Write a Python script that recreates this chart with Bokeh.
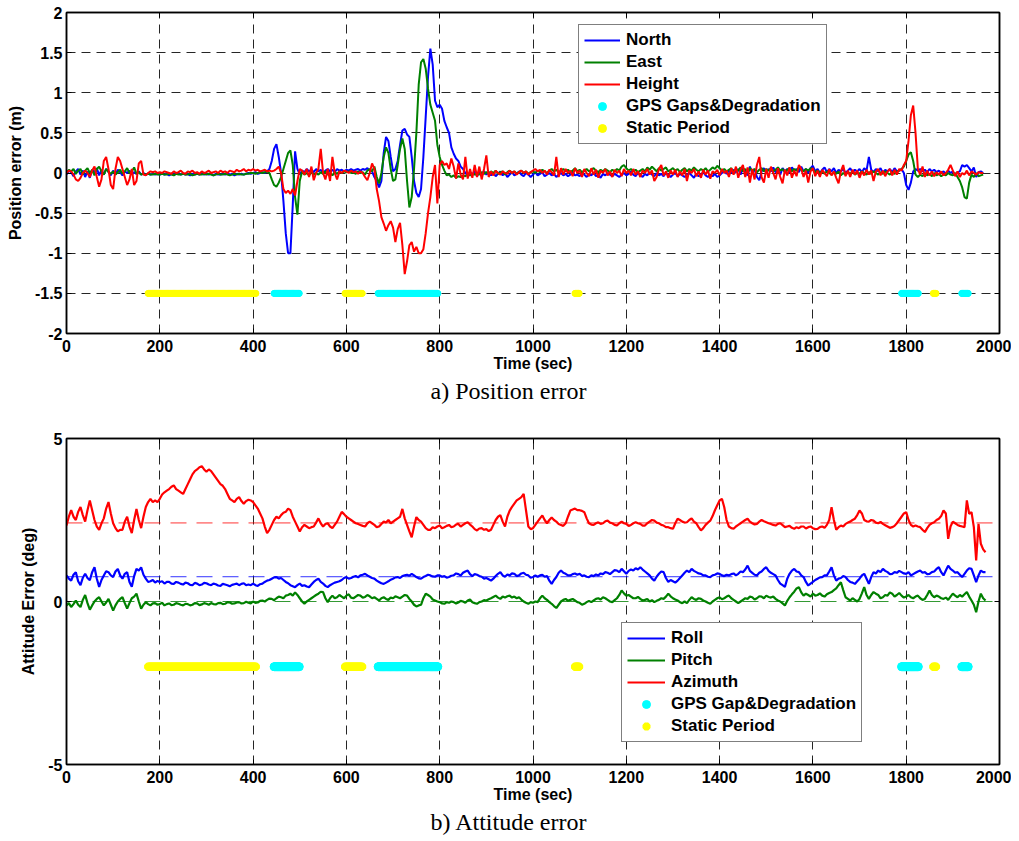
import numpy as np
from bokeh.plotting import figure
from bokeh.models import Range1d, FixedTicker, Legend, LegendItem, Span, LinearAxis
from bokeh.layouts import column
from bokeh.embed import file_html
from bokeh.resources import INLINE

# ---------------- data ----------------
pos_dt = 5      # seconds between position samples (t = 0, 5, 10, ...)
att_dt = 5      # seconds between attitude samples (t = 0, 5, 10, ...)

north = [
    -0.02, 0.03, 0.01, -0.04, 0.02, 0.05, -0.02, 0.03, -0.05, 0.02, -0.06, 0.04, 0.01, 0.06, -0.03, 0.04, -0.02, 0.05, 0.02, -0.03,
    0.03, -0.02, 0.04, 0.01, -0.03, 0.02, 0.0, 0.03, -0.02, 0.01, -0.01, 0.02, -0.02, 0.0, -0.02, -0.01, -0.02, -0.01, -0.02, -0.01,
    -0.02, -0.01, -0.02, -0.01, -0.03, -0.01, -0.02, -0.01, 0.0, -0.02, -0.01, -0.02, -0.01, -0.03, -0.01, -0.02, -0.01, -0.02, 0.0, -0.02,
    -0.01, -0.02, -0.01, -0.03, -0.01, -0.02, -0.02, -0.01, -0.02, 0.0, -0.02, -0.01, -0.03, -0.01, -0.02, -0.01, -0.02, -0.01, 0.0, -0.01,
    0.0, 0.01, -0.01, 0.0, 0.01, 0.0, 0.02, 0.05, 0.15, 0.3, 0.36, 0.2, 0.0, -0.35, -0.75, -1.0, -1.0, -0.4, 0.27, 0.05,
    -0.02, 0.03, 0.01, 0.05, 0.02, 0.04, 0.01, 0.05, 0.02, 0.04, 0.0, 0.03, 0.05, 0.02, 0.04, 0.01, 0.05, 0.03, 0.04, 0.02,
    0.04, 0.03, 0.05, 0.03, 0.04, 0.05, 0.03, 0.05, 0.04, 0.06, 0.03, 0.02, -0.05, -0.1, -0.18, -0.1, 0.25, 0.45, 0.4, 0.2,
    0.02, 0.05, 0.15, 0.35, 0.53, 0.55, 0.48, 0.45, 0.2, -0.1, -0.25, -0.3, -0.2, 0.2, 0.7, 1.2, 1.55, 1.35, 0.9, 0.82,
    0.85, 0.8, 0.65, 0.57, 0.5, 0.32, 0.24, 0.18, 0.15, 0.08, 0.05, 0.0, -0.03, 0.01, -0.02, 0.02, -0.04, 0.01, -0.02, 0.02,
    -0.02, 0.01, -0.03, 0.0, -0.04, -0.01, 0.02, -0.03, 0.0, -0.05, -0.02, 0.01, -0.03, -0.01, 0.02, -0.02, -0.04, 0.0, -0.02, -0.05,
    -0.02, 0.01, -0.03, -0.01, 0.01, -0.04, -0.02, 0.0, -0.03, -0.01, -0.05, -0.02, 0.0, -0.03, -0.01, -0.04, -0.02, 0.01, -0.03, -0.02,
    -0.04, 0.0, -0.02, -0.05, -0.01, -0.03, 0.0, -0.04, -0.02, -0.06, -0.01, -0.03, 0.0, -0.02, -0.04, -0.01, -0.03, -0.05, -0.02, 0.0,
    -0.03, -0.01, 0.02, -0.02, -0.04, 0.0, -0.02, -0.05, -0.01, -0.03, 0.01, -0.02, -0.04, 0.0, -0.03, -0.01, -0.04, 0.0, -0.02, -0.05,
    -0.02, 0.0, -0.04, -0.01, -0.03, -0.05, -0.02, 0.0, -0.03, -0.06, -0.01, -0.04, -0.02, 0.01, -0.03, -0.05, -0.02, -0.04, -0.01, -0.05,
    -0.03, 0.0, 0.02, -0.01, 0.03, 0.0, 0.04, 0.01, 0.05, -0.02, 0.06, 0.02, -0.03, 0.08, 0.0, 0.05, -0.05, -0.09, 0.02, 0.06,
    0.0, 0.05, 0.02, 0.07, 0.01, 0.04, -0.02, 0.06, 0.02, 0.05, 0.0, 0.07, 0.03, 0.05, 0.01, 0.08, 0.02, 0.05, 0.0, 0.06,
    0.09, 0.02, 0.05, 0.0, 0.04, 0.07, 0.01, 0.05, 0.02, 0.06, 0.0, 0.04, 0.02, 0.05, 0.0, 0.03, 0.06, 0.01, 0.04, 0.02,
    0.05, 0.01, 0.06, 0.03, 0.2, 0.04, 0.01, 0.05, 0.02, 0.06, 0.0, 0.04, 0.02, 0.05, 0.01, 0.06, 0.02, 0.03, 0.05, 0.0,
    -0.15, -0.21, -0.12, 0.02, 0.05, 0.03, 0.05, 0.02, 0.04, 0.01, 0.05, 0.02, 0.04, 0.01, 0.03, 0.0, 0.02, -0.01, 0.03, 0.0,
    0.02, -0.03, 0.01, 0.02, 0.1, 0.08, 0.1, 0.06, 0.02, 0.07, -0.05, 0.01, 0.02, 0.0,
]

east = [
    0.0, 0.04, 0.02, 0.05, -0.01, 0.03, 0.05, -0.02, 0.03, 0.06, 0.0, 0.04, -0.03, 0.05, 0.08, 0.02, -0.02, 0.05, 0.01, -0.01,
    0.02, -0.02, 0.01, 0.04, -0.01, 0.02, 0.06, 0.0, 0.02, 0.07, -0.01, 0.01, -0.02, -0.01, -0.02, -0.01, -0.02, -0.02, -0.01, -0.02,
    -0.02, -0.01, -0.02, -0.02, -0.01, -0.02, -0.03, -0.01, -0.02, -0.02, -0.01, -0.02, -0.02, -0.01, -0.03, -0.02, -0.01, -0.02, -0.02, -0.01,
    -0.02, -0.01, -0.02, -0.03, -0.02, -0.01, -0.02, -0.02, -0.01, -0.02, -0.03, -0.02, -0.01, -0.02, -0.01, -0.02, -0.02, -0.01, -0.01, 0.0,
    0.0, -0.01, 0.0, 0.01, 0.0, 0.01, 0.02, 0.0, -0.08, -0.15, -0.17, -0.12, -0.05, 0.05, 0.15, 0.25, 0.28, 0.1, -0.3, -0.52,
    -0.1, 0.02, -0.02, 0.0, -0.03, 0.01, -0.02, 0.0, -0.02, 0.01, -0.01, 0.02, -0.02, 0.0, -0.03, 0.01, -0.01, 0.02, 0.0, 0.02,
    0.01, 0.02, 0.0, 0.01, -0.01, 0.02, 0.0, 0.01, -0.02, 0.03, 0.05, 0.02, 0.08, -0.05, -0.13, 0.0, 0.2, 0.32, 0.25, 0.05,
    -0.1, -0.08, 0.1, 0.3, 0.43, 0.3, -0.1, -0.43, -0.3, 0.05, 0.5, 1.1, 1.38, 1.42, 1.3, 1.05, 0.85, 0.75, 0.65, 0.35,
    0.2, 0.1, 0.03, -0.03, -0.02, -0.05, -0.03, -0.06, -0.04, -0.05, -0.03, -0.04, -0.02, -0.03, -0.01, -0.02, 0.0, -0.02, 0.01, -0.01,
    0.01, -0.01, 0.02, 0.0, 0.03, -0.01, 0.01, 0.02, -0.02, 0.01, 0.03, 0.0, 0.02, -0.01, 0.01, 0.03, 0.0, 0.02, -0.01, 0.01,
    0.02, 0.0, 0.03, 0.01, 0.04, 0.02, 0.0, 0.03, 0.05, 0.02, 0.04, 0.01, 0.03, 0.05, 0.02, 0.04, 0.01, 0.03, 0.06, 0.02,
    0.04, 0.01, 0.03, 0.05, 0.02, 0.04, 0.06, 0.03, 0.01, 0.04, 0.02, 0.05, 0.03, 0.01, 0.04, 0.02, 0.05, 0.03, 0.08, 0.1,
    0.06, 0.03, 0.05, 0.02, 0.04, 0.01, 0.03, 0.05, 0.02, 0.07, 0.04, 0.08, 0.05, 0.02, 0.06, 0.03, 0.05, 0.07, 0.02, 0.04,
    0.06, 0.03, 0.05, 0.01, 0.04, 0.06, 0.02, 0.05, 0.03, 0.07, 0.04, 0.02, 0.05, 0.03, 0.06, 0.02, 0.04, 0.07, 0.05, 0.09,
    0.06, 0.03, 0.05, 0.02, 0.04, 0.06, 0.01, 0.05, 0.03, 0.07, 0.02, 0.05, 0.0, 0.06, 0.03, 0.05, 0.01, 0.04, 0.06, 0.02,
    0.05, 0.03, 0.06, 0.02, 0.04, 0.07, 0.03, 0.05, 0.01, 0.04, 0.06, 0.02, 0.05, 0.03, 0.07, 0.04, 0.02, 0.05, 0.03, 0.06,
    0.04, 0.01, 0.03, 0.0, 0.02, -0.01, 0.02, 0.0, -0.02, 0.01, -0.01, 0.02, -0.03, 0.0, -0.02, 0.01, -0.01, 0.02, -0.02, 0.0,
    -0.01, 0.02, 0.0, -0.02, 0.01, -0.01, 0.02, 0.0, -0.02, 0.01, -0.01, 0.02, 0.0, -0.02, 0.01, -0.01, 0.02, 0.03, 0.05, 0.08,
    0.15, 0.23, 0.26, 0.15, -0.02, -0.05, -0.02, -0.04, 0.0, -0.03, -0.01, -0.04, 0.0, -0.03, -0.01, -0.04, -0.02, -0.03, 0.0, -0.02,
    -0.03, 0.0, -0.05, -0.1, -0.18, -0.3, -0.32, -0.12, -0.02, -0.05, 0.0, -0.04, -0.03, -0.02,
]

height = [
    0.0, 0.03, 0.02, -0.02, -0.08, -0.1, -0.06, 0.0, 0.03, 0.0, -0.05, 0.03, 0.08, -0.05, -0.17, -0.08, 0.15, 0.2, 0.05, -0.15,
    -0.2, 0.05, 0.2, 0.15, 0.05, -0.05, -0.15, -0.08, 0.05, -0.15, -0.1, 0.12, 0.15, -0.02, -0.03, 0.0, 0.02, 0.01, 0.02, 0.0,
    0.01, 0.0, 0.02, 0.01, 0.0, -0.01, 0.02, 0.0, 0.01, 0.03, 0.0, -0.01, 0.02, 0.01, 0.03, 0.0, 0.01, -0.01, 0.02, 0.0,
    0.01, 0.03, 0.0, 0.01, 0.02, 0.0, 0.03, 0.01, 0.02, 0.0, 0.03, 0.02, 0.01, 0.04, 0.02, 0.03, 0.05, 0.02, 0.04, 0.03,
    0.05, 0.03, 0.04, 0.02, 0.03, 0.04, 0.02, 0.03, 0.02, 0.03, 0.05, 0.08, 0.0, -0.2, -0.25, -0.22, -0.26, -0.2, -0.28, -0.1,
    0.05, 0.03, -0.02, 0.05, -0.05, 0.08, -0.09, 0.0, 0.05, 0.3, 0.0, -0.08, 0.05, -0.1, 0.2, 0.0, -0.08, 0.02, 0.0, 0.03,
    0.02, 0.0, 0.03, 0.01, 0.02, -0.01, 0.02, 0.0, -0.05, -0.09, 0.0, 0.12, 0.05, -0.2, -0.35, -0.55, -0.63, -0.72, -0.65, -0.6,
    -0.68, -0.86, -0.7, -0.62, -0.9, -1.26, -1.1, -0.9, -0.86, -0.98, -0.92, -1.0, -1.0, -0.95, -0.75, -0.5, -0.3, -0.05, 0.1, -0.38,
    0.1, 0.15, 0.1, 0.12, 0.05, 0.18, 0.08, -0.07, 0.12, -0.02, -0.08, 0.2, -0.07, 0.05, -0.06, 0.1, -0.05, 0.08, -0.08, 0.05,
    0.22, -0.05, 0.02, -0.03, 0.03, 0.0, -0.02, 0.02, 0.0, -0.01, 0.03, 0.0, 0.02, -0.02, 0.01, 0.03, 0.0, 0.02, -0.02, 0.01,
    0.03, 0.05, 0.02, 0.04, 0.0, 0.03, -0.02, 0.04, 0.01, -0.03, 0.2, -0.05, 0.06, -0.02, 0.05, 0.0, 0.03, -0.04, 0.06, 0.0,
    0.03, -0.05, 0.05, 0.0, -0.04, 0.06, -0.02, 0.04, -0.06, 0.03, 0.0, 0.05, -0.03, 0.02, -0.05, 0.04, 0.0, 0.03, -0.04, 0.05,
    0.0, 0.03, -0.03, 0.05, -0.02, 0.02, -0.05, 0.03, 0.0, 0.05, -0.02, 0.03, -0.1, -0.05, 0.05, 0.1, -0.03, 0.02, -0.06, 0.03,
    -0.02, 0.04, -0.05, 0.02, -0.03, 0.05, -0.1, 0.03, 0.0, 0.05, -0.04, 0.02, -0.06, 0.04, -0.02, 0.03, -0.07, 0.02, 0.0, 0.04,
    -0.03, 0.05, 0.0, 0.03, -0.05, 0.06, -0.02, 0.08, -0.06, 0.04, 0.1, -0.05, 0.07, -0.12, 0.05, -0.08, 0.1, 0.2, -0.05, -0.12,
    0.05, -0.06, 0.08, 0.0, -0.08, 0.06, -0.05, -0.13, 0.04, -0.03, 0.07, -0.06, 0.03, -0.04, 0.1, 0.05, -0.05, 0.03, -0.12, 0.02,
    0.06, -0.04, 0.03, -0.05, 0.04, 0.0, -0.04, 0.05, -0.03, 0.02, -0.06, -0.13, 0.02, 0.1, -0.04, 0.03, -0.05, 0.04, -0.02, 0.03,
    -0.06, 0.02, -0.03, 0.04, -0.02, 0.03, -0.1, 0.02, 0.05, -0.03, 0.03, -0.04, 0.02, 0.05, -0.03, 0.04, -0.02, 0.05, 0.03, 0.1,
    0.15, 0.4, 0.72, 0.84, 0.5, 0.05, -0.02, 0.08, -0.05, 0.03, -0.03, 0.02, -0.04, 0.01, -0.02, 0.02, -0.03, 0.0, 0.04, 0.1,
    0.03, -0.04, 0.02, -0.05, 0.0, -0.02, 0.03, -0.03, 0.02, 0.0, -0.02, 0.01, 0.0, 0.0,
]

roll = [
    0.8, 0.7, 0.64, 0.82, 0.9, 0.62, 0.5, 0.73, 0.85, 0.72, 0.65, 0.9, 1.05, 0.7, 0.45, 0.66, 0.8, 0.93, 0.9, 0.8,
    0.75, 0.92, 1.0, 0.8, 0.7, 0.85, 0.9, 0.6, 0.45, 0.78, 1.0, 0.95, 1.05, 0.82, 0.7, 0.6, 0.62, 0.66, 0.58, 0.63,
    0.6, 0.62, 0.55, 0.6, 0.6, 0.55, 0.54, 0.6, 0.58, 0.54, 0.52, 0.58, 0.56, 0.51, 0.5, 0.57, 0.55, 0.5, 0.52, 0.57,
    0.56, 0.52, 0.5, 0.55, 0.53, 0.49, 0.48, 0.54, 0.52, 0.5, 0.47, 0.51, 0.53, 0.55, 0.5, 0.54, 0.56, 0.5, 0.52, 0.5,
    0.55, 0.5, 0.48, 0.53, 0.55, 0.6, 0.64, 0.66, 0.7, 0.74, 0.75, 0.7, 0.72, 0.66, 0.6, 0.56, 0.5, 0.47, 0.44, 0.5,
    0.55, 0.48, 0.5, 0.46, 0.44, 0.52, 0.6, 0.66, 0.7, 0.6, 0.55, 0.48, 0.44, 0.5, 0.54, 0.58, 0.6, 0.62, 0.66, 0.72,
    0.75, 0.7, 0.72, 0.76, 0.78, 0.74, 0.8, 0.82, 0.85, 0.8, 0.76, 0.72, 0.7, 0.64, 0.6, 0.56, 0.54, 0.58, 0.62, 0.67,
    0.7, 0.74, 0.75, 0.72, 0.78, 0.8, 0.82, 0.79, 0.85, 0.8, 0.75, 0.71, 0.7, 0.75, 0.78, 0.82, 0.8, 0.77, 0.76, 0.8,
    0.8, 0.76, 0.78, 0.73, 0.75, 0.79, 0.8, 0.86, 0.84, 0.8, 0.88, 0.92, 0.95, 0.84, 0.78, 0.84, 0.82, 0.78, 0.76, 0.7,
    0.72, 0.68, 0.64, 0.7, 0.78, 0.85, 0.9, 0.8, 0.76, 0.83, 0.8, 0.86, 0.85, 0.78, 0.8, 0.86, 0.88, 0.82, 0.8, 0.73,
    0.75, 0.8, 0.76, 0.8, 0.82, 0.76, 0.78, 0.64, 0.54, 0.66, 0.75, 0.88, 0.95, 0.88, 0.85, 0.8, 0.8, 0.84, 0.86, 0.82,
    0.85, 0.78, 0.8, 0.76, 0.75, 0.8, 0.78, 0.83, 0.8, 0.86, 0.84, 0.9, 0.88, 0.84, 0.9, 0.96, 0.95, 0.9, 1.0, 0.93,
    0.85, 0.94, 0.98, 0.95, 1.02, 0.98, 1.05, 0.98, 0.92, 0.86, 0.8, 0.7, 0.64, 0.76, 0.85, 0.92, 0.9, 0.72, 0.6, 0.66,
    0.62, 0.58, 0.64, 0.72, 0.8, 0.88, 0.95, 0.9, 1.0, 0.94, 0.9, 0.86, 0.85, 0.8, 0.8, 0.76, 0.75, 0.8, 0.82, 0.86,
    0.85, 0.8, 0.78, 0.82, 0.8, 0.84, 0.86, 0.8, 0.85, 0.92, 0.9, 0.98, 1.1, 0.94, 0.88, 0.82, 0.8, 0.88, 0.92, 1.0,
    1.05, 0.94, 0.88, 0.84, 0.8, 0.66, 0.55, 0.5, 0.45, 0.7, 0.85, 0.95, 1.0, 0.92, 0.9, 0.8, 0.75, 0.6, 0.49, 0.55,
    0.6, 0.66, 0.7, 0.74, 0.75, 0.8, 0.8, 0.92, 1.05, 0.8, 0.64, 0.7, 0.72, 0.78, 0.75, 0.66, 0.6, 0.58, 0.54, 0.62,
    0.7, 0.8, 0.85, 0.7, 0.54, 0.75, 0.9, 0.86, 0.95, 0.9, 1.0, 0.94, 0.9, 0.84, 0.85, 0.9, 0.88, 0.94, 0.9, 0.86,
    0.85, 0.9, 0.8, 0.84, 0.88, 0.92, 0.95, 0.88, 0.9, 0.84, 0.85, 0.9, 0.92, 1.0, 1.05, 0.9, 0.8, 0.95, 1.1, 1.0,
    0.95, 0.88, 0.9, 0.82, 0.75, 0.85, 0.95, 1.02, 1.0, 0.8, 0.59, 0.8, 0.95, 0.9, 0.9,
]

pitch = [
    -0.12, -0.05, -0.17, -0.08, 0.03, -0.1, -0.17, 0.05, 0.2, -0.05, -0.25, -0.12, 0.0, 0.08, 0.13, 0.0, -0.12, -0.03, 0.08, -0.1,
    -0.28, -0.12, 0.0, 0.08, 0.13, -0.05, -0.22, -0.05, 0.1, 0.15, 0.24, 0.0, -0.22, -0.1, -0.02, -0.08, -0.12, -0.06, -0.05, -0.1,
    -0.08, -0.04, -0.12, -0.08, -0.06, -0.11, -0.1, -0.05, -0.07, -0.1, -0.12, -0.07, -0.08, -0.12, -0.1, -0.05, -0.06, -0.11, -0.09, -0.05,
    -0.07, -0.1, -0.05, -0.08, -0.09, -0.05, -0.04, -0.08, -0.07, -0.02, -0.03, -0.07, -0.06, -0.03, -0.02, -0.06, -0.05, -0.01, -0.04, -0.06,
    0.0, -0.04, -0.03, 0.02, 0.03, 0.0, 0.05, 0.09, 0.08, 0.04, 0.1, 0.15, 0.13, 0.1, 0.18, 0.2, 0.24, 0.18, 0.28, 0.2,
    0.1, 0.0, -0.07, 0.0, 0.05, 0.1, 0.15, 0.2, 0.24, 0.3, 0.29, 0.1, -0.02, 0.1, 0.18, 0.1, 0.13, 0.2, 0.15, 0.1,
    0.18, 0.22, 0.12, 0.1, 0.15, 0.2, 0.18, 0.12, 0.14, 0.2, 0.16, 0.1, 0.13, 0.08, 0.03, 0.1, 0.13, 0.08, 0.05, 0.12,
    0.1, 0.16, 0.13, 0.1, 0.15, 0.2, 0.18, 0.08, 0.0, -0.1, -0.15, -0.12, -0.1, 0.1, 0.24, 0.2, 0.15, 0.06, 0.03, 0.0,
    -0.02, -0.06, -0.07, -0.02, -0.04, 0.0, -0.02, -0.06, -0.03, 0.02, 0.0, -0.04, 0.03, 0.06, -0.02, -0.05, -0.07, -0.02, 0.0, 0.04,
    0.03, 0.07, 0.1, 0.14, 0.18, 0.12, 0.08, 0.15, 0.12, 0.16, 0.18, 0.12, 0.15, 0.1, 0.13, 0.06, 0.0, -0.04, -0.07, -0.02,
    -0.04, 0.0, -0.02, 0.1, 0.18, 0.1, 0.05, -0.02, -0.07, -0.14, -0.2, -0.1, 0.0, 0.05, 0.08, 0.02, 0.05, 0.08, 0.03, -0.02,
    -0.04, -0.1, -0.07, -0.02, 0.02, -0.02, 0.03, 0.08, 0.1, 0.06, 0.13, 0.1, 0.05, 0.0, -0.02, 0.04, 0.1, 0.2, 0.34, 0.25,
    0.18, 0.2, 0.15, 0.1, 0.1, 0.14, 0.08, 0.03, 0.05, 0.08, 0.0, 0.04, -0.02, 0.02, 0.05, 0.1, 0.08, 0.15, 0.24, 0.16,
    0.1, 0.06, 0.03, -0.02, -0.05, 0.0, -0.05, 0.05, 0.13, 0.08, 0.05, 0.1, 0.08, 0.03, 0.0, -0.04, -0.07, 0.0, 0.05, 0.1,
    0.13, 0.07, 0.1, 0.15, 0.18, 0.1, 0.05, 0.0, -0.05, 0.0, 0.05, 0.1, 0.08, 0.15, 0.13, 0.06, 0.1, 0.16, 0.15, 0.1,
    0.18, 0.14, 0.12, 0.15, 0.08, 0.03, 0.0, -0.06, -0.12, 0.02, 0.13, 0.22, 0.3, 0.4, 0.44, 0.28, 0.18, 0.24, 0.2, 0.15,
    0.24, 0.18, 0.2, 0.25, 0.18, 0.15, 0.22, 0.26, 0.29, 0.35, 0.4, 0.5, 0.59, 0.35, 0.13, 0.08, 0.03, 0.1, 0.05, 0.0,
    0.08, 0.25, 0.44, 0.2, 0.08, 0.2, 0.29, 0.24, 0.2, 0.1, 0.13, 0.2, 0.18, 0.28, 0.24, 0.15, 0.2, 0.26, 0.18, 0.12,
    0.15, 0.2, 0.13, 0.1, 0.15, 0.18, 0.1, 0.05, 0.08, 0.2, 0.34, 0.2, 0.13, 0.18, 0.15, 0.1, 0.08, 0.12, 0.05, 0.15,
    0.24, 0.18, 0.13, 0.2, 0.15, 0.22, 0.29, 0.15, 0.03, -0.1, -0.33, 0.0, 0.24, 0.1, 0.03,
]

azimuth = [
    2.33, 2.6, 2.8, 2.6, 2.5, 2.75, 2.9, 2.65, 2.45, 2.8, 3.1, 2.8, 2.5, 2.3, 2.2, 2.4, 2.55, 2.85, 3.05, 2.7,
    2.4, 2.25, 2.15, 2.2, 2.2, 2.45, 2.6, 2.3, 2.1, 2.5, 2.84, 2.5, 2.25, 2.6, 2.9, 3.05, 3.15, 3.05, 3.1, 3.05,
    3.15, 3.28, 3.35, 3.4, 3.45, 3.52, 3.56, 3.45, 3.4, 3.35, 3.3, 3.45, 3.6, 3.75, 3.9, 4.0, 4.05, 4.12, 4.15, 4.05,
    3.98, 4.05, 4.0, 3.9, 3.8, 3.7, 3.6, 3.55, 3.45, 3.3, 3.15, 3.1, 3.05, 3.15, 3.2, 3.08, 3.0, 3.08, 3.12, 3.1,
    3.05, 2.95, 2.85, 2.7, 2.55, 2.3, 2.1, 2.2, 2.35, 2.5, 2.6, 2.55, 2.65, 2.72, 2.75, 2.85, 2.8, 2.6, 2.45, 2.3,
    2.15, 2.28, 2.35, 2.3, 2.25, 2.28, 2.3, 2.42, 2.55, 2.4, 2.3, 2.38, 2.4, 2.3, 2.25, 2.35, 2.45, 2.6, 2.75, 2.68,
    2.6, 2.55, 2.5, 2.45, 2.4, 2.38, 2.35, 2.32, 2.3, 2.4, 2.45, 2.4, 2.35, 2.28, 2.3, 2.38, 2.45, 2.42, 2.5, 2.4,
    2.45, 2.5, 2.55, 2.6, 2.84, 2.55, 2.35, 2.15, 1.97, 2.3, 2.59, 2.5, 2.45, 2.35, 2.25, 2.2, 2.2, 2.28, 2.25, 2.3,
    2.33, 2.25, 2.28, 2.32, 2.35, 2.28, 2.3, 2.36, 2.38, 2.3, 2.35, 2.4, 2.43, 2.36, 2.3, 2.22, 2.18, 2.24, 2.25, 2.2,
    2.22, 2.16, 2.2, 2.35, 2.5, 2.6, 2.65, 2.45, 2.3, 2.6, 2.79, 2.9, 3.0, 3.1, 3.15, 3.2, 3.3, 2.8, 2.3, 2.22,
    2.25, 2.35, 2.45, 2.55, 2.64, 2.5, 2.4, 2.5, 2.58, 2.5, 2.45, 2.38, 2.35, 2.32, 2.4, 2.6, 2.79, 2.82, 2.85, 2.8,
    2.8, 2.78, 2.74, 2.55, 2.4, 2.36, 2.35, 2.4, 2.43, 2.38, 2.4, 2.46, 2.48, 2.42, 2.4, 2.35, 2.33, 2.4, 2.45, 2.4,
    2.38, 2.32, 2.35, 2.4, 2.43, 2.4, 2.38, 2.33, 2.33, 2.4, 2.45, 2.5, 2.48, 2.42, 2.4, 2.35, 2.33, 2.28, 2.28, 2.25,
    2.23, 2.4, 2.54, 2.5, 2.45, 2.42, 2.43, 2.5, 2.55, 2.45, 2.4, 2.28, 2.18, 2.25, 2.35, 2.42, 2.48, 2.62, 2.8, 2.95,
    3.1, 3.15, 2.89, 2.5, 2.3, 2.25, 2.23, 2.3, 2.35, 2.4, 2.45, 2.5, 2.54, 2.45, 2.4, 2.36, 2.38, 2.45, 2.5, 2.46,
    2.43, 2.4, 2.38, 2.35, 2.33, 2.38, 2.4, 2.34, 2.28, 2.3, 2.32, 2.26, 2.23, 2.28, 2.25, 2.3, 2.3, 2.24, 2.28, 2.3,
    2.25, 2.22, 2.23, 2.28, 2.3, 2.26, 2.35, 2.5, 2.89, 2.5, 2.2, 2.28, 2.33, 2.3, 2.38, 2.42, 2.45, 2.5, 2.54, 2.65,
    2.79, 2.7, 2.5, 2.46, 2.45, 2.5, 2.48, 2.42, 2.4, 2.44, 2.38, 2.34, 2.3, 2.26, 2.28, 2.32, 2.4, 2.5, 2.6, 2.7,
    2.74, 2.5, 2.35, 2.3, 2.33, 2.3, 2.28, 2.2, 2.13, 2.25, 2.35, 2.4, 2.43, 2.5, 2.54, 2.62, 2.79, 2.7, 1.92, 2.3,
    2.45, 2.4, 2.35, 2.32, 2.3, 2.28, 3.1, 2.69, 2.74, 2.28, 1.26, 2.38, 1.77, 1.6, 1.51,
]

# mean (dashed reference) levels of the attitude errors
roll_mean, pitch_mean, azimuth_mean = 0.76, 0.0, 2.41

# GPS gap / degradation and static periods (start, end in seconds)
gps_start = [445, 668, 1790, 1919]
gps_end = [499, 796, 1826, 1933]
static_start = [175, 597, 1090, 1858]
static_end = [406, 634, 1099, 1864]
pos_marker_level = -1.5
att_marker_level = -2.0

x_ticks = [0, 200, 400, 600, 800, 1000, 1200, 1400, 1600, 1800, 2000]
x_tick_labels = ["0", "200", "400", "600", "800", "1000", "1200", "1400", "1600", "1800", "2000"]
pos_yticks = [-2, -1.5, -1, -0.5, 0, 0.5, 1, 1.5, 2]
pos_ytick_labels = ["-2", "-1.5", "-1", "-0.5", "0", "0.5", "1", "1.5", "2"]
att_yticks = [-5, 0, 5]
att_ytick_labels = ["-5", "0", "5"]

# ---------------- styling helpers ----------------
SANS = "Liberation Sans"
SERIF = "Liberation Serif"
BLUE, GREEN, RED, CYAN, YELLOW = "#0000FF", "#008000", "#FF0000", "#00FFFF", "#FFFF00"


def times(series, dt):
    return np.arange(len(series)) * dt


def intervals(starts, ends):
    return np.concatenate([np.arange(s, e + 1, 1.0) for s, e in zip(starts, ends)])


def make_fig(height, border_top, border_bottom, y_lo, y_hi, caption):
    p = figure(width=1011, height=height, x_range=Range1d(0, 2000), y_range=Range1d(y_lo, y_hi),
               output_backend="svg", toolbar_location=None, title=caption, title_location="below",
               min_border_left=66, min_border_right=12, min_border_top=border_top,
               min_border_bottom=border_bottom)
    p.background_fill_color = "white"
    p.border_fill_color = "white"
    p.outline_line_color = "black"
    p.outline_line_width = 1.5
    p.title.align = "left"
    p.title.offset = 364
    p.title.standoff = 3
    p.title.text_font = SERIF
    p.title.text_font_style = "normal"
    p.title.text_font_size = "24px"
    p.title.text_color = "black"
    return p


def style_axes(p, ylabel, yticks, ylabels, ygrid):
    p.xaxis.ticker = FixedTicker(ticks=x_ticks)
    p.xaxis.major_label_overrides = {float(k): v for k, v in zip(x_ticks, x_tick_labels)}
    p.yaxis.ticker = FixedTicker(ticks=yticks)
    p.yaxis.major_label_overrides = {float(k): v for k, v in zip(yticks, ylabels)}
    p.xaxis.axis_label = "Time (sec)"
    p.yaxis.axis_label = ylabel
    for ax in (p.xaxis[0], p.yaxis[0]):
        ax.axis_line_color = "black"
        ax.axis_line_width = 1.5
        ax.major_tick_in = 5
        ax.major_tick_out = 0
        ax.major_tick_line_color = "black"
        ax.minor_tick_line_color = None
        ax.major_label_text_font = SANS
        ax.major_label_text_font_style = "bold"
        ax.major_label_text_font_size = "16px"
        ax.major_label_text_color = "black"
        ax.axis_label_text_font = SANS
        ax.axis_label_text_font_style = "bold"
        ax.axis_label_text_font_size = "16px"
        ax.axis_label_text_color = "black"
    p.xaxis[0].major_label_standoff = 6
    p.xaxis[0].axis_label_standoff = 0
    p.yaxis[0].major_label_standoff = 4
    p.yaxis[0].axis_label_standoff = 8
    p.xgrid.grid_line_color = "black"
    p.xgrid.grid_line_dash = "9 6"
    p.xgrid.grid_line_width = 1
    p.xgrid.grid_line_alpha = 0.85
    if ygrid:
        p.ygrid.grid_line_color = "black"
        p.ygrid.grid_line_dash = "9 6"
        p.ygrid.grid_line_width = 1
        p.ygrid.grid_line_alpha = 0.85
    else:
        p.ygrid.visible = False
    # box ticks on the top and right edges (no labels)
    for loc, ticks in (("above", x_ticks), ("right", yticks)):
        ax = LinearAxis(ticker=FixedTicker(ticks=ticks),
                        major_label_overrides={float(k): "" for k in ticks},
                        major_label_text_font_size="1px", major_label_standoff=0,
                        major_tick_in=5, major_tick_out=0, minor_tick_line_color=None,
                        axis_line_color="black", axis_line_width=1.5)
        p.add_layout(ax, loc)


def style_legend(legend):
    legend.label_text_font = SANS
    legend.label_text_font_style = "bold"
    legend.label_text_font_size = "17px"
    legend.label_text_color = "black"
    legend.glyph_width = 36
    legend.glyph_height = 20
    legend.label_height = 20
    legend.label_standoff = 6
    legend.spacing = 2
    legend.padding = 5
    legend.margin = 0
    legend.border_line_color = "black"
    legend.border_line_width = 1.5
    legend.background_fill_color = "white"
    legend.background_fill_alpha = 1.0


# ---------------- a) position error ----------------
p1 = make_fig(413, 12, 80, -2, 2, "a) Position error")
style_axes(p1, "Position error (m)", pos_yticks, pos_ytick_labels, True)

rn = p1.line(times(north, pos_dt), north, line_color=BLUE, line_width=2)
re = p1.line(times(east, pos_dt), east, line_color=GREEN, line_width=2)
rh = p1.line(times(height, pos_dt), height, line_color=RED, line_width=2)
g1x = intervals(gps_start, gps_end)
s1x = intervals(static_start, static_end)
rg1 = p1.scatter(g1x, np.full(len(g1x), pos_marker_level), marker="circle", size=6,
                 fill_color=CYAN, line_color=CYAN)
rs1 = p1.scatter(s1x, np.full(len(s1x), pos_marker_level), marker="circle", size=6,
                 fill_color=YELLOW, line_color=YELLOW)

leg1 = Legend(items=[LegendItem(label="North", renderers=[rn]),
                     LegendItem(label="East", renderers=[re]),
                     LegendItem(label="Height", renderers=[rh]),
                     LegendItem(label="GPS Gaps&Degradation", renderers=[rg1]),
                     LegendItem(label="Static Period", renderers=[rs1])],
              location=(512, 189))
style_legend(leg1)
p1.add_layout(leg1)

# ---------------- b) attitude error ----------------
p2 = make_fig(427, 25, 76, -5, 5, "b) Attitude error")
style_axes(p2, "Attitude Error (deg)", att_yticks, att_ytick_labels, False)

for lvl, col in ((roll_mean, BLUE), (pitch_mean, GREEN), (azimuth_mean, RED)):
    p2.add_layout(Span(location=lvl, dimension="width", line_color=col, line_width=1,
                       line_dash="16 10", line_alpha=0.8, level="underlay"))

rr = p2.line(times(roll, att_dt), roll, line_color=BLUE, line_width=2.2)
rp = p2.line(times(pitch, att_dt), pitch, line_color=GREEN, line_width=2.2)
ra = p2.line(times(azimuth, att_dt), azimuth, line_color=RED, line_width=2.2)
rg2 = p2.scatter(g1x, np.full(len(g1x), att_marker_level), marker="circle", size=8,
                 fill_color=CYAN, line_color=CYAN)
rs2 = p2.scatter(s1x, np.full(len(s1x), att_marker_level), marker="asterisk", size=8,
                 line_color=YELLOW, line_width=3)

leg2 = Legend(items=[LegendItem(label="Roll", renderers=[rr]),
                     LegendItem(label="Pitch", renderers=[rp]),
                     LegendItem(label="Azimuth", renderers=[ra]),
                     LegendItem(label="GPS Gap&Degradation", renderers=[rg2]),
                     LegendItem(label="Static Period", renderers=[rs2])],
              location=(555, 22))
style_legend(leg2)
leg2.glyph_width = 38
p2.add_layout(leg2)

layout = column(p1, p2)
open("out.html", "w").write(file_html(layout, INLINE))
